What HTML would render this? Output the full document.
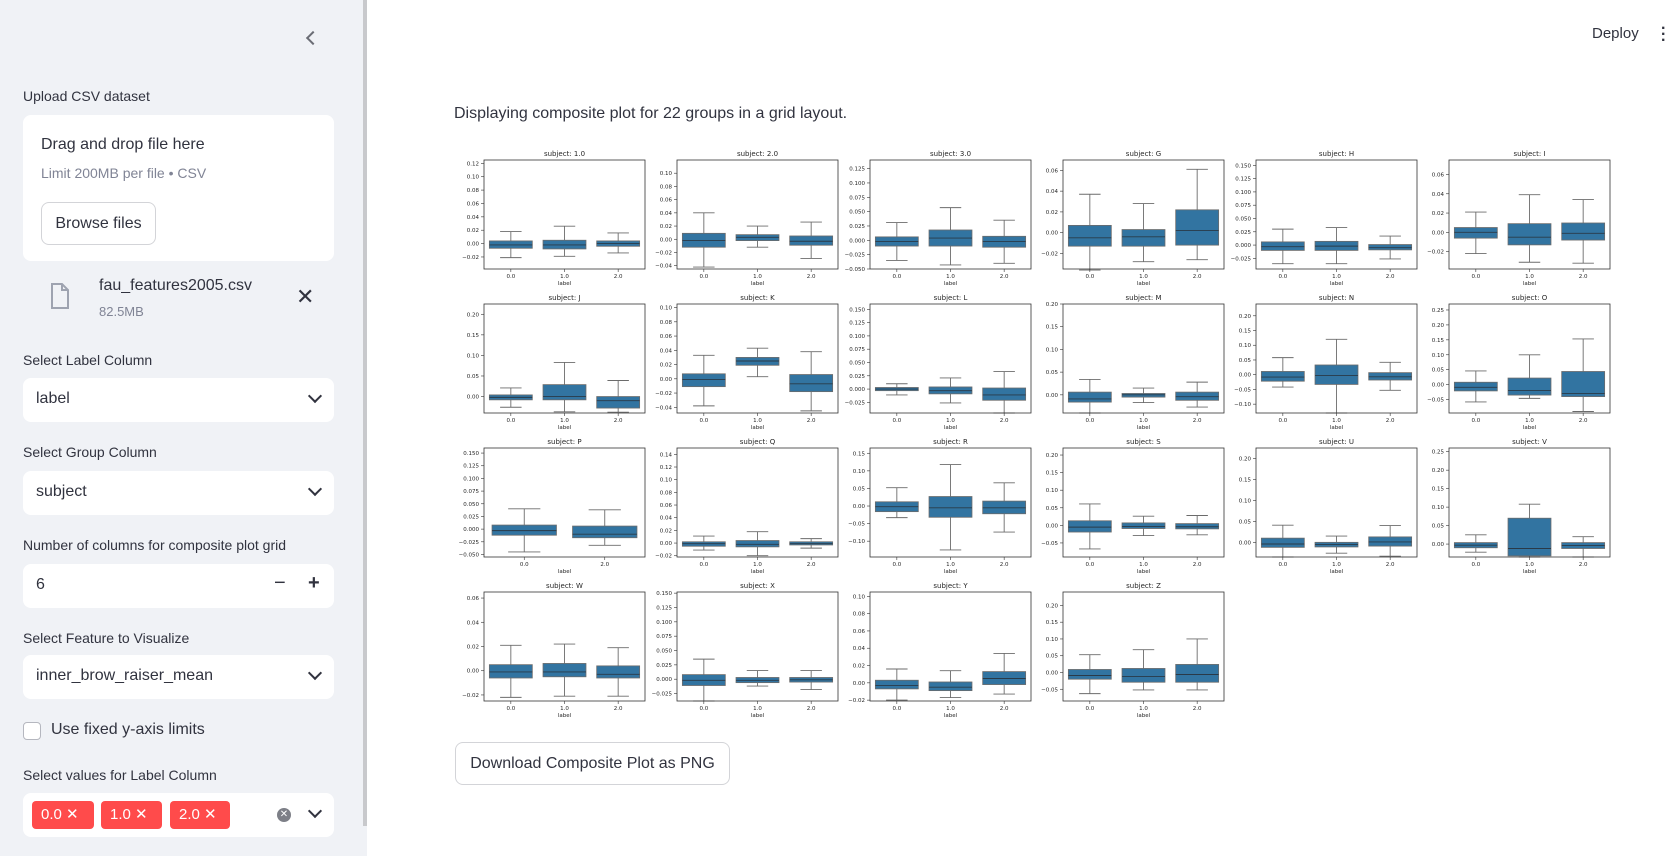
<!DOCTYPE html>
<html><head><meta charset="utf-8">
<style>
body{margin:0;width:1668px;height:856px;overflow:hidden;font-family:"Liberation Sans",sans-serif;background:#fff;position:relative;color:#31333f}
.sb{position:absolute;left:0;top:0;width:367px;height:856px;background:#f0f2f6}
.abs{position:absolute}
.lbl{font-size:14px;color:#31333f}
.sel{position:absolute;left:23px;width:311px;height:44px;background:#fff;border-radius:8px;font-size:16px}
.sel span{position:absolute;left:13px;top:12px}
.chev{position:absolute;right:14px;top:13px;width:8px;height:8px;border-right:2px solid #31333f;border-bottom:2px solid #31333f;transform:rotate(45deg)}
.tag{position:absolute;top:8px;height:28px;background:#ff4b4b;color:#fff;border-radius:4px;font-size:15px;line-height:28px;padding-left:9px}
</style></head><body>
<div class="sb">
  <div class="abs" style="left:363px;top:0;width:4px;height:826px;background:#c8c9cc"></div>
  <div class="abs" style="left:308px;top:33px;width:8px;height:8px;border-left:2px solid #6b6d75;border-bottom:2px solid #6b6d75;transform:rotate(45deg)"></div>
  <div class="abs lbl" style="left:23px;top:88px">Upload CSV dataset</div>
  <div class="abs" style="left:23px;top:115px;width:311px;height:146px;background:#fff;border-radius:8px">
    <div class="abs" style="left:18px;top:21px;font-size:16px">Drag and drop file here</div>
    <div class="abs" style="left:18px;top:50px;font-size:14px;color:#808495">Limit 200MB per file • CSV</div>
    <div class="abs" style="left:18px;top:87px;width:113px;height:41px;border:1px solid #d3d4d8;border-radius:8px;font-size:16px;line-height:41px;text-align:center;background:#fff">Browse files</div>
  </div>
  <svg class="abs" style="left:50px;top:283px" width="20" height="26"><path d="M2 1h10l6 6v18H2z" fill="none" stroke="#9ea3b0" stroke-width="2"/><path d="M12 1v6h6" fill="none" stroke="#9ea3b0" stroke-width="2"/></svg>
  <div class="abs" style="left:99px;top:277px;font-size:16px">fau_features2005.csv</div>
  <div class="abs" style="left:99px;top:304px;font-size:13px;color:#808495">82.5MB</div>
  <div class="abs" style="left:296px;top:284px;font-size:22px;color:#31333f">✕</div>
  <div class="abs lbl" style="left:23px;top:352px">Select Label Column</div>
  <div class="sel" style="top:378px"><span>label</span><div class="chev"></div></div>
  <div class="abs lbl" style="left:23px;top:444px">Select Group Column</div>
  <div class="sel" style="top:471px"><span>subject</span><div class="chev"></div></div>
  <div class="abs lbl" style="left:23px;top:537px">Number of columns for composite plot grid</div>
  <div class="sel" style="top:564px"><span>6</span>
    <div class="abs" style="left:251px;top:8px;font-size:20px">−</div>
    <div class="abs" style="left:285px;top:8px;font-size:20px;font-weight:bold">+</div></div>
  <div class="abs lbl" style="left:23px;top:630px">Select Feature to Visualize</div>
  <div class="sel" style="top:655px"><span>inner_brow_raiser_mean</span><div class="chev"></div></div>
  <div class="abs" style="left:23px;top:722px;width:16px;height:16px;border:1px solid #b5b7bf;border-radius:4px;background:#fff"></div>
  <div class="abs" style="left:51px;top:721px;font-size:16px">Use fixed y-axis limits</div>
  <div class="abs lbl" style="left:23px;top:767px">Select values for Label Column</div>
  <div class="sel" style="top:793px">
    <div class="tag" style="left:9px;width:53px">0.0 ✕</div>
    <div class="tag" style="left:78px;width:52px">1.0 ✕</div>
    <div class="tag" style="left:147px;width:51px">2.0 ✕</div>
    <div class="abs" style="left:254px;top:15px;width:14px;height:14px;border-radius:7px;background:#7d7f87;color:#fff;font-size:10px;line-height:14px;text-align:center">✕</div>
    <div class="chev"></div></div>
</div>
<div class="abs" style="left:1592px;top:25px;font-size:15px">Deploy</div>
<div class="abs" style="left:1661px;top:26px;width:4px;font-size:16px;line-height:6px;font-weight:bold">·<br>·<br>·</div>
<div class="abs" style="left:454px;top:105px;font-size:16px">Displaying composite plot for 22 groups in a grid layout.</div>
<svg class="abs" style="left:0;top:0" width="1668" height="740" id="grid"></svg>
<div class="abs" style="left:455px;top:742px;width:273px;height:41px;border:1px solid #d3d4d8;border-radius:8px;font-size:16px;line-height:41px;text-align:center">Download Composite Plot as PNG</div>
<script>
const titles=["1.0","2.0","3.0","G","H","I","J","K","L","M","N","O","P","Q","R","S","U","V","W","X","Y","Z"];
const cats=[["0.0","1.0","2.0"],["0.0","1.0","2.0"],["0.0","1.0","2.0"],["0.0","1.0","2.0"],["0.0","1.0","2.0"],["0.0","1.0","2.0"],["0.0","1.0","2.0"],["0.0","1.0","2.0"],["0.0","1.0","2.0"],["0.0","1.0","2.0"],["0.0","1.0","2.0"],["0.0","1.0","2.0"],["0.0","2.0"],["0.0","1.0","2.0"],["0.0","1.0","2.0"],["0.0","1.0","2.0"],["0.0","1.0","2.0"],["0.0","1.0","2.0"],["0.0","1.0","2.0"],["0.0","1.0","2.0"],["0.0","1.0","2.0"],["0.0","1.0","2.0"]];
const ylims=[[-0.038,0.125],[-0.045,0.12],[-0.05,0.14],[-0.035,0.07],[-0.045,0.16],[-0.038,0.075],[-0.04,0.225],[-0.048,0.105],[-0.045,0.16],[-0.04,0.2],[-0.13,0.24],[-0.095,0.27],[-0.055,0.16],[-0.022,0.15],[-0.145,0.165],[-0.09,0.22],[-0.035,0.225],[-0.035,0.26],[-0.025,0.065],[-0.038,0.152],[-0.021,0.105],[-0.085,0.24]];
const ticks=[[-0.02,0.12,0.02,2],[-0.04,0.1,0.02,2],[-0.05,0.125,0.025,3],[-0.02,0.06,0.02,2],[-0.025,0.15,0.025,3],[-0.02,0.06,0.02,2],[0,0.2,0.05,2],[-0.04,0.1,0.02,2],[-0.025,0.15,0.025,3],[0,0.2,0.05,2],[-0.1,0.2,0.05,2],[-0.05,0.25,0.05,2],[-0.05,0.15,0.025,3],[-0.02,0.14,0.02,2],[-0.1,0.15,0.05,2],[-0.05,0.2,0.05,2],[0,0.2,0.05,2],[0,0.25,0.05,2],[-0.02,0.06,0.02,2],[-0.025,0.15,0.025,3],[-0.02,0.1,0.02,2],[-0.05,0.2,0.05,2]];
// [whislo,q1,med,q3,whishi] per category
const stats=[
[[-0.021,-0.007,-0.002,0.004,0.018],[-0.019,-0.008,-0.002,0.005,0.026],[-0.014,-0.004,0,0.004,0.016]],
[[-0.042,-0.012,-0.002,0.009,0.04],[-0.012,-0.002,0.003,0.007,0.02],[-0.029,-0.009,-0.003,0.005,0.026]],
[[-0.035,-0.01,-0.002,0.006,0.031],[-0.043,-0.01,0.004,0.018,0.057],[-0.04,-0.012,-0.002,0.007,0.035]],
[[-0.036,-0.013,-0.005,0.007,0.037],[-0.028,-0.013,-0.004,0.003,0.028],[-0.026,-0.012,0.002,0.022,0.061]],
[[-0.035,-0.01,-0.003,0.006,0.03],[-0.035,-0.01,-0.002,0.007,0.033],[-0.026,-0.009,-0.005,0.001,0.017]],
[[-0.022,-0.006,0,0.005,0.021],[-0.031,-0.013,-0.005,0.009,0.039],[-0.032,-0.008,-0.001,0.0097,0.034]],
[[-0.026,-0.008,-0.002,0.004,0.021],[-0.037,-0.008,0,0.029,0.083],[-0.038,-0.028,-0.01,0,0.039]],
[[-0.038,-0.011,-0.001,0.007,0.033],[0.003,0.019,0.025,0.03,0.043],[-0.045,-0.018,-0.007,0.006,0.038]],
[[-0.011,-0.003,0,0.003,0.01],[-0.026,-0.009,-0.003,0.004,0.021],[-0.045,-0.021,-0.011,0.002,0.033]],
[[-0.04,-0.016,-0.009,0.006,0.034],[-0.017,-0.005,0,0.003,0.015],[-0.027,-0.012,-0.004,0.006,0.028]],
[[-0.042,-0.022,-0.008,0.011,0.058],[-0.13,-0.033,-0.003,0.033,0.12],[-0.053,-0.018,-0.007,0.007,0.042]],
[[-0.058,-0.021,-0.009,0.008,0.046],[-0.046,-0.035,-0.02,0.022,0.1],[-0.09,-0.04,-0.03,0.044,0.153]],
[[-0.045,-0.012,-0.003,0.008,0.04],[-0.032,-0.017,-0.01,0.006,0.038]],
[[-0.011,-0.005,-0.001,0.002,0.011],[-0.02,-0.006,-0.002,0.004,0.018],[-0.008,-0.003,-0.001,0.002,0.007]],
[[-0.033,-0.016,-0.002,0.012,0.052],[-0.125,-0.032,-0.005,0.027,0.118],[-0.074,-0.022,-0.005,0.014,0.066]],
[[-0.067,-0.019,-0.005,0.013,0.061],[-0.029,-0.009,-0.003,0.007,0.026],[-0.027,-0.01,-0.004,0.005,0.028]],
[[-0.035,-0.012,-0.004,0.01,0.041],[-0.026,-0.011,-0.005,0,0.015],[-0.033,-0.009,0.001,0.013,0.04]],
[[-0.022,-0.01,-0.003,0.004,0.025],[-0.035,-0.032,-0.012,0.07,0.108],[-0.035,-0.012,-0.004,0.004,0.02]],
[[-0.022,-0.006,-0.001,0.005,0.021],[-0.021,-0.005,-0.001,0.006,0.022],[-0.021,-0.006,-0.003,0.004,0.019]],
[[-0.038,-0.011,-0.002,0.008,0.035],[-0.012,-0.006,-0.002,0.003,0.015],[-0.018,-0.005,-0.001,0.003,0.015]],
[[-0.02,-0.007,-0.003,0.003,0.016],[-0.017,-0.009,-0.005,0.001,0.014],[-0.013,-0.002,0.005,0.013,0.034]],
[[-0.063,-0.02,-0.009,0.009,0.053],[-0.052,-0.029,-0.012,0.012,0.068],[-0.052,-0.029,-0.006,0.024,0.1]]];

const svg=document.getElementById('grid');
const NS='http://www.w3.org/2000/svg';
function mk(tag,attrs,parent){const e=document.createElementNS(NS,tag);for(const k in attrs)e.setAttribute(k,attrs[k]);parent.appendChild(e);return e;}
const W=161,H=109,F='"DejaVu Sans","Liberation Sans",sans-serif';
titles.forEach((t,i)=>{
  const col=i%6,row=Math.floor(i/6);
  const L=484+193*col,T=160+144*row;
  const g=mk('g',{},svg);
  
  
  const [y0,y1]=ylims[i];
  const ys=v=>T+H-(v-y0)/(y1-y0)*H;
  const n=cats[i].length;
  const xs=v=>L+(v+0.5)/n*W;
  const tt=mk('text',{x:L+W/2,y:T-4,'font-size':7,'text-anchor':'middle',fill:'#262626','font-family':F},g);tt.textContent='subject: '+t;
  
  
  const [a,b,s,d]=ticks[i];
  for(let k=0;a+k*s<=b+1e-9;k++){const v=a+k*s;const y=ys(v);
    mk('line',{x1:L-3,x2:L,y1:y,y2:y,stroke:'#333','stroke-width':0.6},g);
    const lt=mk('text',{x:L-5,y:y+2,'font-size':5.5,'text-anchor':'end',fill:'#262626','font-family':F},g);
    lt.textContent=(v<-1e-9?'\u2212':'')+Math.abs(v).toFixed(d);
    
    }
  stats[i].forEach((st,c)=>{
    const cx=xs(c),hw=0.4/n*W*(n===2?1:1);
    const bw=0.8*W/n/2;
    const [lo,q1,md,q3,hi]=st;
    mk('line',{x1:cx,x2:cx,y1:ys(hi),y2:ys(q3),stroke:'#6b6b6b','stroke-width':0.9},g);
    mk('line',{x1:cx,x2:cx,y1:ys(q1),y2:ys(lo),stroke:'#6b6b6b','stroke-width':0.9},g);
    mk('line',{x1:cx-bw/2,x2:cx+bw/2,y1:ys(hi),y2:ys(hi),stroke:'#6b6b6b','stroke-width':0.9},g);
    mk('line',{x1:cx-bw/2,x2:cx+bw/2,y1:ys(lo),y2:ys(lo),stroke:'#6b6b6b','stroke-width':0.9},g);
    const r=mk('rect',{x:cx-bw,y:ys(q3),width:2*bw,height:Math.max(0.5,ys(q1)-ys(q3)),fill:'#3274a1',stroke:'#6b6b6b','stroke-width':0.8},g);
    
    
    mk('line',{x1:cx-bw,x2:cx+bw,y1:ys(md),y2:ys(md),stroke:'#2a3a48','stroke-width':0.9},g);
    mk('line',{x1:cx,x2:cx,y1:T+H,y2:T+H+3,stroke:'#333','stroke-width':0.6},g);
    const xt=mk('text',{x:cx,y:T+H+9,'font-size':5.5,'text-anchor':'middle',fill:'#262626','font-family':F},g);xt.textContent=cats[i][c];
    
    
  });
  const xl=mk('text',{x:L+W/2,y:T+H+16,'font-size':5.5,'text-anchor':'middle',fill:'#262626','font-family':F},g);xl.textContent='label';
  
  
  mk('rect',{x:L,y:T,width:W,height:H,fill:'none',stroke:'#333','stroke-width':0.8},g);
});
</script>
</body></html>
